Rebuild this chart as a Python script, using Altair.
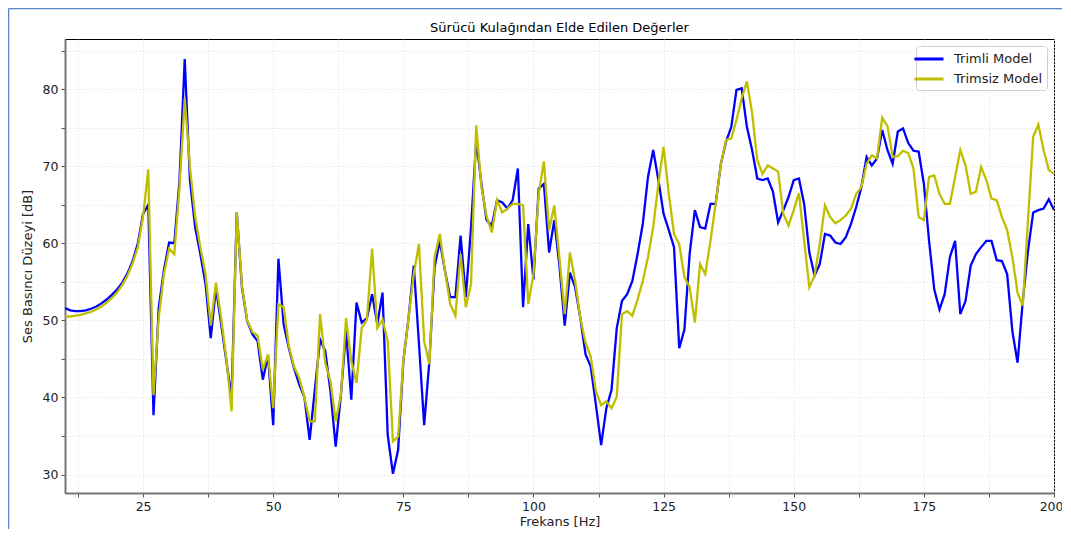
import altair as alt
import pandas as pd

freq = list(range(10, 201))

trimli = [
    51.6, 51.3, 51.2, 51.2, 51.3, 51.5, 51.8, 52.2, 52.7, 53.3,   # 10-19
    54.0, 54.9, 56.1, 57.7, 60.0, 63.8, 65.0, 37.7, 51.6, 56.5,   # 20-29
    60.1, 60.0, 68.2, 83.9, 68.2, 62.1, 58.6, 54.7, 47.7, 54.2,   # 30-39
    49.5, 44.7, 40.0, 64.0, 54.2, 49.9, 48.2, 47.3, 42.3, 45.4,   # 40-49
    36.4, 58.0, 49.5, 46.4, 43.8, 41.7, 40.0, 34.5, 41.0, 47.5,   # 50-59
    46.0, 40.8, 33.6, 40.3, 48.6, 39.7, 52.3, 49.7, 50.3, 53.4,   # 60-69
    49.5, 53.6, 35.1, 30.1, 33.2, 44.7, 50.3, 57.1, 47.0, 36.4,   # 70-79
    44.7, 56.9, 60.3, 56.4, 53.0, 53.0, 61.0, 53.0, 62.0, 73.4,   # 80-89
    67.7, 63.0, 62.3, 65.6, 65.3, 64.5, 65.6, 69.7, 51.7, 62.5,   # 90-99
    55.3, 67.1, 67.7, 58.8, 63.0, 57.0, 49.3, 56.2, 54.3, 50.3,   # 100-109
    45.6, 44.0, 39.0, 33.8, 38.6, 41.0, 49.0, 52.5, 53.4, 55.1,   # 110-119
    58.6, 62.5, 68.6, 72.1, 68.2, 63.8, 61.7, 59.5, 46.4, 48.8,   # 120-129
    58.6, 64.3, 62.1, 61.9, 65.1, 65.1, 70.3, 73.2, 75.1, 79.9,   # 130-139
    80.1, 75.1, 72.1, 68.4, 68.2, 68.4, 66.7, 62.7, 64.3, 66.0,   # 140-149
    68.2, 68.4, 65.1, 58.8, 55.8, 57.3, 61.2, 61.0, 60.1, 59.9,   # 150-159
    60.8, 62.5, 64.7, 67.3, 71.2, 70.1, 71.0, 74.7, 72.1, 70.3,   # 160-169
    74.5, 74.9, 73.0, 72.0, 71.9, 67.7, 60.3, 54.0, 51.4, 53.4,   # 170-179
    58.2, 60.3, 50.8, 52.5, 57.1, 58.6, 59.5, 60.3, 60.3, 57.8,   # 180-189
    57.7, 56.0, 48.6, 44.5, 52.5, 59.0, 64.0, 64.3, 64.5, 65.7,   # 190-199
    64.3,                                                         # 200
]

trimsiz = [
    50.5, 50.5, 50.6, 50.7, 50.9, 51.1, 51.4, 51.8, 52.3, 52.9,   # 10-19
    53.6, 54.6, 55.8, 57.4, 59.5, 63.5, 69.6, 40.3, 50.3, 56.0,   # 20-29
    59.3, 58.6, 67.3, 78.8, 69.9, 63.5, 59.5, 56.0, 49.3, 54.9,   # 30-39
    50.3, 45.0, 38.2, 64.0, 54.5, 50.0, 48.5, 48.0, 43.6, 45.6,   # 40-49
    38.6, 52.1, 51.7, 46.7, 44.0, 42.5, 40.0, 36.9, 36.9, 50.8,   # 50-59
    44.5, 42.1, 36.9, 40.3, 50.3, 44.7, 41.9, 49.0, 50.1, 59.3,   # 60-69
    49.0, 50.1, 47.3, 34.3, 34.9, 44.7, 50.3, 56.0, 59.9, 47.3,   # 70-79
    44.3, 58.2, 61.2, 56.4, 52.1, 50.6, 58.6, 51.7, 54.7, 75.3,   # 80-89
    67.3, 63.5, 61.4, 65.6, 64.0, 64.5, 65.1, 65.1, 64.9, 52.1,   # 90-99
    56.0, 66.4, 70.6, 61.7, 64.9, 58.0, 50.8, 58.8, 55.1, 50.3,   # 100-109
    47.1, 45.3, 40.8, 39.0, 39.5, 38.6, 40.1, 50.8, 51.2, 50.6,   # 110-119
    52.7, 55.1, 58.2, 62.1, 67.7, 72.5, 66.4, 61.2, 59.9, 55.6,   # 120-129
    54.3, 49.7, 57.3, 56.0, 60.3, 65.1, 70.3, 73.4, 73.6, 76.0,   # 130-139
    78.8, 81.0, 76.9, 70.8, 69.0, 70.1, 69.7, 69.3, 63.8, 62.3,   # 140-149
    64.3, 66.5, 60.3, 54.3, 55.8, 59.9, 64.9, 63.4, 62.6, 63.0,   # 150-159
    63.6, 64.5, 66.4, 67.3, 70.3, 71.4, 71.0, 76.3, 75.2, 71.2,   # 160-169
    71.3, 72.0, 71.7, 69.7, 63.4, 63.0, 68.6, 68.8, 66.4, 65.1,   # 170-179
    65.1, 68.6, 72.1, 70.1, 66.4, 66.7, 69.9, 68.2, 65.8, 65.6,   # 180-189
    63.4, 61.7, 58.2, 53.6, 51.9, 63.0, 73.8, 75.4, 72.1, 69.5,   # 190-199
    69.0,                                                         # 200
]

series_names = ["Trimli Model", "Trimsiz Model"]
series_colors = ["#0000ff", "#bfbf00"]

x_ticks = [12.5 * i for i in range(1, 17)]
y_ticks = [30, 35, 40, 45, 50, 55, 60, 65, 70, 75, 80, 85]

df = pd.concat([
    pd.DataFrame({"f": freq, "db": trimli, "model": series_names[0]}),
    pd.DataFrame({"f": freq, "db": trimsiz, "model": series_names[1]}),
], ignore_index=True)

FONT = "DejaVu Sans"
W, H = 989, 454

lines = alt.Chart(df).mark_line(strokeWidth=2.3, clip=True).encode(
    x=alt.X("f:Q",
            scale=alt.Scale(domain=[10, 200], nice=False, zero=False),
            axis=alt.Axis(values=x_ticks,
                          labelExpr="datum.value % 25 == 0 ? datum.label : ''",
                          labelFlush=True, labelFlushOffset=9,
                          title="Frekans [Hz]")),
    y=alt.Y("db:Q",
            scale=alt.Scale(domain=[27.6, 86.5], nice=False, zero=False),
            axis=alt.Axis(values=y_ticks,
                          labelExpr="datum.value % 10 == 0 ? datum.label : ''",
                          title="Ses Basıncı Düzeyi [dB]")),
    color=alt.Color("model:N",
                    scale=alt.Scale(domain=series_names, range=series_colors),
                    legend=alt.Legend(title=None, orient="top-right", offset=7,
                                      symbolType="M-2,0L2,0", symbolSize=210,
                                      symbolStrokeWidth=3, labelFontSize=13,
                                      labelFont=FONT, labelColor="#222",
                                      padding=4, rowPadding=4, labelOffset=16,
                                      strokeColor="#d0d0d0", fillColor="white",
                                      cornerRadius=3, labelLimit=200)),
    order="f:Q",
)

frame_color = "#5a86c8"
frame_data = alt.Data(values=[{"k": 1}])
frame_top = alt.Chart(frame_data).mark_rule(color=frame_color, strokeWidth=1.5).encode(
    x=alt.value(-56.5), x2=alt.value(W + 8), y=alt.value(-30.5))
frame_left = alt.Chart(frame_data).mark_rule(color=frame_color, strokeWidth=1.5).encode(
    x=alt.value(-56.5), y=alt.value(-30.5), y2=alt.value(H + 40))

chart = alt.layer(lines, frame_top, frame_left).properties(
    width=W, height=H,
    autosize=alt.AutoSizeParams(type="none"),
    padding={"left": 57, "top": 31, "right": 8, "bottom": 36},
    title=alt.TitleParams("Sürücü Kulağından Elde Edilen Değerler",
                          font=FONT, fontSize=13, fontWeight="normal",
                          color="black", anchor="middle", offset=7, dy=34),
).configure_view(
    stroke="black", strokeWidth=1
).configure_axis(
    labelFont=FONT, labelFontSize=12.5, labelColor="#222",
    titleFont=FONT, titleFontSize=13, titleFontWeight="normal", titleColor="#222",
    domainColor="#777777", domainWidth=2,
    tickColor="#555555", tickSize=4, tickWidth=1,
    gridColor="#e2e2e2", gridDash=[1.5, 2], gridWidth=0.8,
    labelPadding=3,
).configure_axisX(
    titlePadding=3
).configure_axisY(
    titlePadding=8
)

chart.save("out.html", embed_options={"renderer": "svg", "actions": False})
